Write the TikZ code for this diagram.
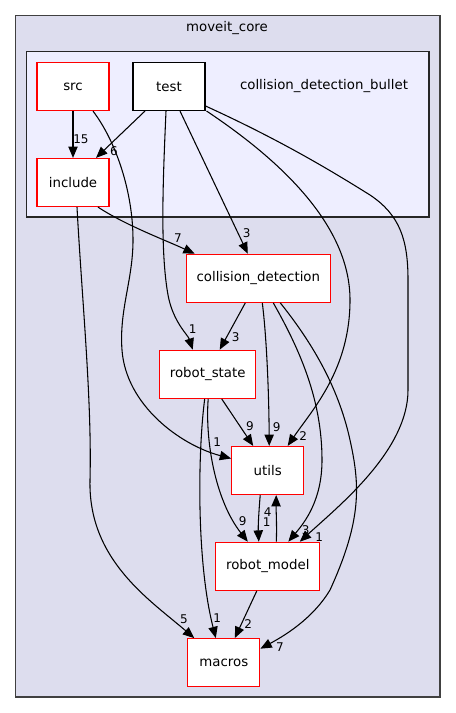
\documentclass[tikz,border=0pt]{standalone}
\usepackage{fontspec}
\setmainfont{DejaVu Sans}
\usetikzlibrary{arrows.meta,calc}
\definecolor{outerfill}{HTML}{DDDDEE}
\definecolor{innerfill}{HTML}{EEEEFF}
\definecolor{outerline}{HTML}{404040}
\begin{document}
\begin{tikzpicture}[x=0.75pt,y=-0.75pt,
  dirbox/.style={draw=red,fill=white,line width=0.9pt,minimum height=36pt,inner sep=0pt,font=\fontsize{10}{12}\selectfont},
  testbox/.style={draw=black,fill=white,line width=0.8pt,minimum height=36pt,inner sep=0pt,font=\fontsize{10}{12}\selectfont},
  dep/.style={draw=black,line width=0.8pt,-{Triangle[length=8.5pt,width=7pt]}},
  lbl/.style={inner sep=0pt,font=\fontsize{9}{10}\selectfont},
  cluster/.style={font=\fontsize{10}{12}\selectfont,inner sep=0pt}]
\useasboundingbox (0,0) rectangle (456,713);
% clusters
\draw[fill=outerfill,draw=outerline,line width=1.2pt] (15.5,15.5) rectangle (440,697);
\node[cluster] (moveitcore) at (227,28) {moveit\_core};
\draw[fill=innerfill,draw=black!85,line width=0.9pt] (26.5,51.7) rectangle (429,217);
\node[cluster] (cdbullet) at (324,86) {collision\_detection\_bullet};
% nodes
\node[dirbox,minimum width=54pt] (src) at (73,86.5) {src};
\node[testbox,minimum width=54pt] (test) at (169,86.5) {test};
\node[dirbox,minimum width=54pt] (include) at (73,182.5) {include};
\node[dirbox,minimum width=108pt] (cd) at (258.3,278.3) {collision\_detection};
\node[dirbox,minimum width=72pt] (rs) at (207.7,374.3) {robot\_state};
\node[dirbox,minimum width=54pt] (utils) at (267.7,470.5) {utils};
\node[dirbox,minimum width=78pt] (rm) at (267.8,566.3) {robot\_model};
\node[dirbox,minimum width=54pt] (macros) at (223.8,662.7) {macros};
% edges
\draw[dep] (src.south) -- (include.north);
\node[lbl] (l1) at (81,139) {15};
\draw[dep] ($(test.south)+(-24,0)$) -- ($(include.north)+(23,0)$);
\node[lbl] (l2) at (114,151) {6};
\draw[dep] ($(src.south)+(20,0)$) .. controls (115,140) and (133,190) .. (133,240)
  .. controls (133,280) and (119,310) .. (122,350)
  .. controls (126,405) and (180,445) .. ($(utils.west)+(0,-12)$);
\node[lbl] (l3) at (217.3,441.7) {1};
\draw[dep] ($(test.south)+(-3,0)$) .. controls (163,180) and (160,250) .. (168,295)
  .. controls (173,322) and (188,335) .. ($(rs.north)+(-15,0)$);
\node[lbl] (l4) at (192.7,329) {1};
\draw[dep] ($(test.south)+(11,0)$) -- ($(cd.north)+(-10.5,0)$);
\node[lbl] (l5) at (246.7,232.7) {3};
\draw[dep] ($(test.south east)+(1,0)$) .. controls (280,160) and (350,225) .. (350,300)
  .. controls (350,370) and (312,410) .. ($(utils.north)+(20,0)$);
\node[lbl] (l6) at (303.3,436) {2};
\draw[dep] ($(test.east)+(0,19.5)$) .. controls (280,140) and (330,170) .. (370,195)
  .. controls (400,215) and (408,240) .. (408,280) -- (408,390)
  .. controls (408,450) and (340,505) .. ($(rm.north)+(32,0)$);
\node[lbl] (l7) at (319.3,536.7) {1};
\draw[dep] ($(include.south)+(25,0)$) .. controls (125,225) and (165,240) .. ($(cd.north west)+(9,0)$);
\node[lbl] (l8) at (178,238) {7};
\draw[dep] ($(include.south)+(4,0)$) .. controls (82,300) and (92,400) .. (90,480)
  .. controls (88,560) and (150,600) .. ($(macros.north west)+(7,0)$);
\node[lbl] (l9) at (184,619) {5};
\draw[dep] ($(cd.south)+(-13,0)$) -- ($(rs.north)+(12,0)$);
\node[lbl] (l10) at (235.7,337.3) {3};
\draw[dep] ($(cd.south)+(4,0)$) .. controls (267,340) and (269,400) .. ($(utils.north)+(1.5,0)$);
\node[lbl] (l11) at (276.7,427.3) {9};
\draw[dep] ($(cd.south)+(15,0)$) .. controls (300,350) and (322,400) .. (322,460)
  .. controls (322,500) and (305,522) .. ($(rm.north)+(20.5,0)$);
\node[lbl] (l12) at (305.7,530) {3};
\draw[dep] ($(cd.south)+(22,0)$) .. controls (310,340) and (338,385) .. (350,440)
  .. controls (360,485) and (362,520) .. (330,590)
  .. controls (312,620) and (282,637) .. ($(macros.east)+(0,-14)$);
\node[lbl] (l13) at (280,647.3) {7};
\draw[dep] ($(rs.south)+(14,0)$) -- ($(utils.north)+(-14.5,0)$);
\node[lbl] (l14) at (250,425.7) {9};
\draw[dep] ($(rs.south)+(0.5,0)$) .. controls (205,440) and (215,500) .. ($(rm.north)+(-20,0)$);
\node[lbl] (l15) at (242.7,521) {9};
\draw[dep] ($(rs.south)+(-3,0)$) .. controls (198,450) and (196,560) .. ($(macros.north)+(-8,0)$);
\node[lbl] (l16) at (217.3,617.7) {1};
\draw[dep] ($(utils.south)+(-7.5,0)$) .. controls (259,510) and (258,525) .. ($(rm.north)+(-9,0)$);
\node[lbl] (l17) at (266.7,522.3) {1};
\draw[dep] ($(rm.north)+(8.5,0)$) .. controls (277,525) and (276,510) .. ($(utils.south)+(8.5,0)$);
\node[lbl] (l18) at (267.7,511.7) {4};
\draw[dep] ($(rm.south)+(-11,0)$) -- ($(macros.north)+(11,0)$);
\node[lbl] (l19) at (248.3,624.3) {2};
\end{tikzpicture}
\end{document}
